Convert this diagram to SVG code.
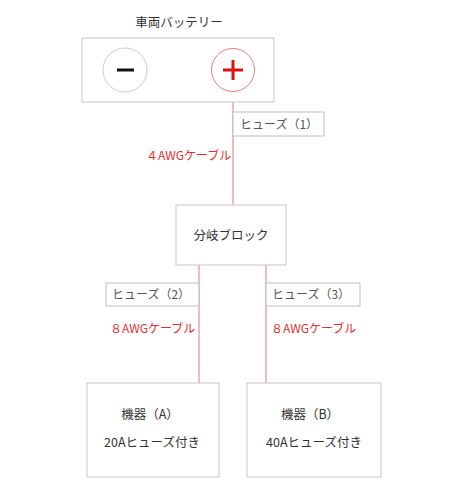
<svg xmlns="http://www.w3.org/2000/svg" width="455" height="500" viewBox="0 0 455 500">
<style>
.box{fill:#fff;stroke:#c8c8c8;stroke-width:1}
.fuse{fill:#fff;stroke:#bdbdbd;stroke-width:1}
.wire{stroke:#e07a7a;stroke-width:1;fill:none}
.t{font-family:"Noto Sans CJK JP","Noto Sans CJK SC",sans-serif;font-size:12.5px;fill:#333}
.tf{font-family:"Noto Sans CJK JP","Noto Sans CJK SC",sans-serif;font-size:12px;fill:#555}
.tr{font-family:"Noto Sans CJK JP","Noto Sans CJK SC",sans-serif;font-size:12px;fill:#e03030}
</style>
<rect width="455" height="500" fill="#fff"/>
<g id="connectors">
<line class="wire" x1="233" y1="92" x2="233" y2="205"/>
<line class="wire" x1="199" y1="265" x2="199" y2="383"/>
<line class="wire" x1="266" y1="265" x2="266" y2="383"/>
</g>
<g id="battery">
<text class="t" x="179" y="27" text-anchor="middle">車両バッテリー</text>
<rect class="box" x="82" y="38" width="192" height="64"/>
<circle cx="125" cy="70" r="22" fill="#fff" stroke="#cccccc"/>
<line x1="117" y1="70" x2="134" y2="70" stroke="#111" stroke-width="3"/>
<circle cx="233" cy="70" r="21.5" fill="#fff" stroke="#e08080"/>
<line x1="223" y1="70" x2="243" y2="70" stroke="#dd1111" stroke-width="3"/>
<line x1="233" y1="60" x2="233" y2="80" stroke="#dd1111" stroke-width="3"/>
</g>
<g id="fuse1">
<rect class="fuse" x="233" y="112" width="91" height="24"/>
<text class="tf" x="240" y="128.5">ヒューズ（1）</text>
</g>
<g id="cable1">
<text class="tr" x="146" y="160">４AWGケーブル</text>
</g>
<g id="branch">
<rect class="box" x="176" y="205" width="110" height="60"/>
<text class="t" x="231" y="239.5" text-anchor="middle">分岐ブロック</text>
</g>
<g id="fuse2">
<rect class="fuse" x="106" y="283" width="93" height="23"/>
<text class="tf" x="112" y="299">ヒューズ（2）</text>
</g>
<g id="fuse3">
<rect class="fuse" x="266" y="283" width="94" height="23"/>
<text class="tf" x="272" y="299">ヒューズ（3）</text>
</g>
<g id="cable2">
<text class="tr" x="110" y="332.5">８AWGケーブル</text>
</g>
<g id="cable3">
<text class="tr" x="271" y="332.5">８AWGケーブル</text>
</g>
<g id="deviceA">
<rect class="box" x="87" y="383" width="132" height="94"/>
<text class="t" x="150" y="418.5" text-anchor="middle">機器（A）</text>
<text class="t" x="152" y="446.5" text-anchor="middle">20Aヒューズ付き</text>
</g>
<g id="deviceB">
<rect class="box" x="247" y="383" width="134" height="94"/>
<text class="t" x="310" y="418.5" text-anchor="middle">機器（B）</text>
<text class="t" x="314" y="446.5" text-anchor="middle">40Aヒューズ付き</text>
</g>
</svg>
